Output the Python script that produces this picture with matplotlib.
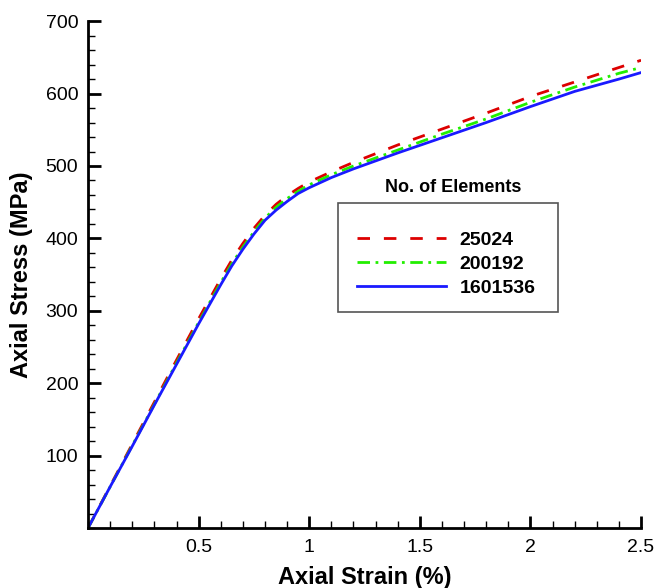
import matplotlib.pyplot as plt
from matplotlib.patches import Rectangle
from matplotlib.ticker import MultipleLocator

plt.rcParams['font.family'] = ['Liberation Sans', 'DejaVu Sans']

# strain (%) sample points
strain = [0.0, 0.1, 0.2, 0.3, 0.4, 0.5, 0.6, 0.65, 0.7, 0.75, 0.8, 0.85, 0.9, 0.95, 1.0,
          1.1, 1.2, 1.3, 1.4, 1.6, 1.8, 2.0, 2.2, 2.4, 2.5]
stress_25024 = [0, 58, 116, 174, 232, 289, 344, 370, 393, 414, 432, 447, 459, 469, 478,
                492, 505, 517, 529, 551, 573, 596, 616, 636, 646]
stress_200192 = [0, 57, 114, 171, 228, 284, 339, 365, 388, 409, 428, 443, 455, 465, 474,
                 488, 500, 511, 522, 544, 565, 588, 609, 628, 636]
stress_1601536 = [0, 57, 113, 170, 226, 282, 336, 362, 385, 406, 425, 439, 451, 462, 470,
                  484, 496, 507, 518, 539, 560, 582, 603, 620, 629]

labels = ['25024', '200192', '1601536']

fig = plt.figure(figsize=(6.54, 5.88), dpi=100)
ax = fig.add_axes([0.1346, 0.102, 0.8456, 0.862])

ax.plot(strain, stress_25024, color='#dd0000', linestyle=(0, (4.5, 5)), lw=2.0, label=labels[0])
ax.plot(strain, stress_200192, color='#22ee00', linestyle=(0, (4.5, 2, 1, 2)), lw=2.0, label=labels[1])
ax.plot(strain, stress_1601536, color='#1a1aff', linestyle='-', lw=2.0, label=labels[2])

ax.set_xlim(0, 2.5)
ax.set_ylim(0, 700)
ax.set_xticks([0.5, 1, 1.5, 2, 2.5])
ax.set_xticklabels(['0.5', '1', '1.5', '2', '2.5'])
ax.set_yticks([100, 200, 300, 400, 500, 600, 700])
ax.xaxis.set_minor_locator(MultipleLocator(0.1))
ax.yaxis.set_minor_locator(MultipleLocator(20))
ax.tick_params(which='major', direction='in', length=9, width=2, labelsize=14)
ax.tick_params(which='minor', direction='in', length=5, width=1)
ax.tick_params(axis='x', pad=8)
ax.tick_params(axis='y', pad=7)

for s in ['top', 'right']:
    ax.spines[s].set_visible(False)
for s in ['left', 'bottom']:
    ax.spines[s].set_linewidth(2)

ax.set_xlabel('Axial Strain (%)', fontsize=17, fontweight='bold', labelpad=7)
ax.set_ylabel('Axial Stress (MPa)', fontsize=17, fontweight='bold', labelpad=9)

# legend frame and title drawn separately (title sits above the box)
ax.add_patch(Rectangle((0.4521, 0.426), 0.3978, 0.215, transform=ax.transAxes,
                       fill=True, facecolor='white', edgecolor='#555555', lw=1.2, zorder=4))
leg = ax.legend(loc='upper left', bbox_to_anchor=(0.486, 0.586), frameon=False,
                prop={'weight': 'bold', 'size': 14}, handlelength=4.6,
                handletextpad=0.7, borderpad=0, borderaxespad=0, labelspacing=0.33)
leg.set_zorder(5)
ax.text(0.66, 0.672, 'No. of Elements', transform=ax.transAxes, ha='center', va='center',
        fontsize=13, fontweight='bold')

fig.savefig('out.png', dpi=100)
